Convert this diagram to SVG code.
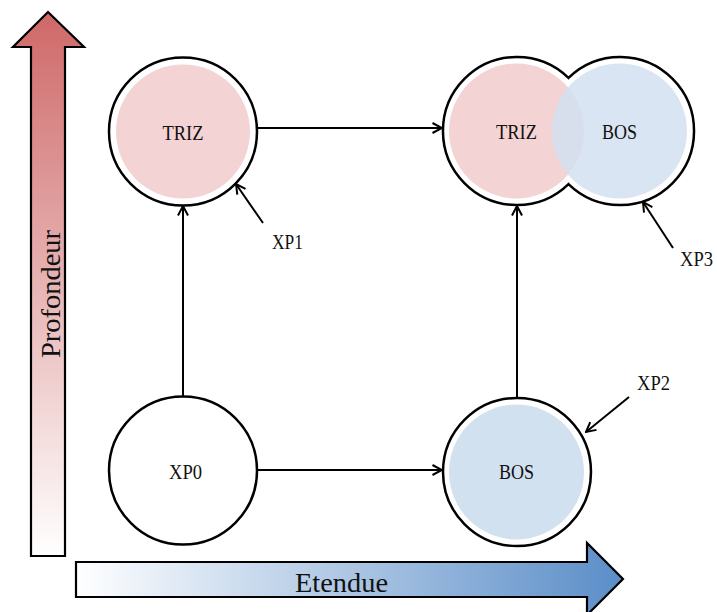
<svg xmlns="http://www.w3.org/2000/svg" width="717" height="612" viewBox="0 0 717 612">
<style>
.ring{fill:#fff;stroke:#000;stroke-width:2.5}
.pink{fill:#f3d3d3}
.blue{fill:#d2e1f0}
.lbl{font-family:"Liberation Serif","Times New Roman",serif;font-size:21px;fill:#111;text-anchor:middle}
.axis{font-family:"Liberation Serif","Times New Roman",serif;font-size:27px;fill:#111;text-anchor:middle}
.con{stroke:#000;stroke-width:2;fill:none;marker-end:url(#ah)}
.band{stroke:#000;stroke-width:2.2;stroke-linejoin:miter}
</style>
<defs>
<marker id="ah" viewBox="0 0 12 12" refX="11" refY="6" markerWidth="12" markerHeight="12" markerUnits="userSpaceOnUse" orient="auto">
<path d="M1.5,1 L11,6 L1.5,11" fill="none" stroke="#000" stroke-width="2"/>
</marker>
<linearGradient id="gv" x1="0" y1="1" x2="0" y2="0">
<stop offset="0" stop-color="#ffffff"/>
<stop offset="1" stop-color="#cf6868"/>
</linearGradient>
<linearGradient id="gh" x1="0" y1="0" x2="1" y2="0">
<stop offset="0" stop-color="#ffffff"/>
<stop offset="1" stop-color="#5a8dc8"/>
</linearGradient>
</defs>

<g id="axis-profondeur">
<path class="band" fill="url(#gv)" d="M31,556 L31,47 L13,47 L48,12 L84,47 L65,47 L65,556 Z"/>
<text class="axis" transform="translate(60,294) rotate(-90)" textLength="128" lengthAdjust="spacingAndGlyphs">Profondeur</text>
</g>
<g id="axis-etendue">
<path class="band" fill="url(#gh)" d="M76,562 L587,562 L587,543 L623,579 L587,615 L587,597 L76,597 Z"/>
<text class="axis" x="341.5" y="592" textLength="93" lengthAdjust="spacingAndGlyphs">Etendue</text>
</g>

<g id="connectors">
<line class="con" x1="183" y1="396" x2="183" y2="206"/>
<line class="con" x1="257" y1="470" x2="442" y2="470"/>
<line class="con" x1="257" y1="128" x2="442" y2="128"/>
<line class="con" x1="517" y1="398" x2="517" y2="206"/>
<line class="con" x1="263" y1="223" x2="236" y2="184"/>
<line class="con" x1="629" y1="397" x2="586" y2="432"/>
<line class="con" x1="673" y1="248" x2="643" y2="202"/>
</g>

<g id="XP0">
<circle class="ring" cx="183" cy="470.5" r="74"/>
<text class="lbl" x="185.5" y="479" textLength="33" lengthAdjust="spacingAndGlyphs">XP0</text>
</g>
<g id="XP1">
<circle class="ring" cx="183" cy="131.5" r="74"/>
<circle class="pink" cx="183" cy="131.5" r="67"/>
<text class="lbl" x="183" y="140" textLength="41" lengthAdjust="spacingAndGlyphs">TRIZ</text>
<text class="lbl" x="287.5" y="249" textLength="31" lengthAdjust="spacingAndGlyphs">XP1</text>
</g>
<g id="XP2">
<circle class="ring" cx="517" cy="472" r="74"/>
<circle class="blue" cx="516.5" cy="472" r="67.5"/>
<text class="lbl" x="516.5" y="479" textLength="35" lengthAdjust="spacingAndGlyphs">BOS</text>
<text class="lbl" x="653.5" y="390" textLength="33" lengthAdjust="spacingAndGlyphs">XP2</text>
</g>
<g id="XP3">
<path class="ring" d="M568.5,77.9 A74,74 0 1 0 568.5,184.1 A74,74 0 1 0 568.5,77.9 Z"/>
<circle class="pink" cx="516.5" cy="131" r="67.5"/>
<circle class="blue" cx="619.5" cy="131" r="67.5" fill-opacity="0.85"/>
<text class="lbl" x="516.5" y="139" textLength="41" lengthAdjust="spacingAndGlyphs">TRIZ</text>
<text class="lbl" x="619.5" y="139" textLength="35" lengthAdjust="spacingAndGlyphs">BOS</text>
<text class="lbl" x="696.5" y="266" textLength="33" lengthAdjust="spacingAndGlyphs">XP3</text>
</g>
</svg>
